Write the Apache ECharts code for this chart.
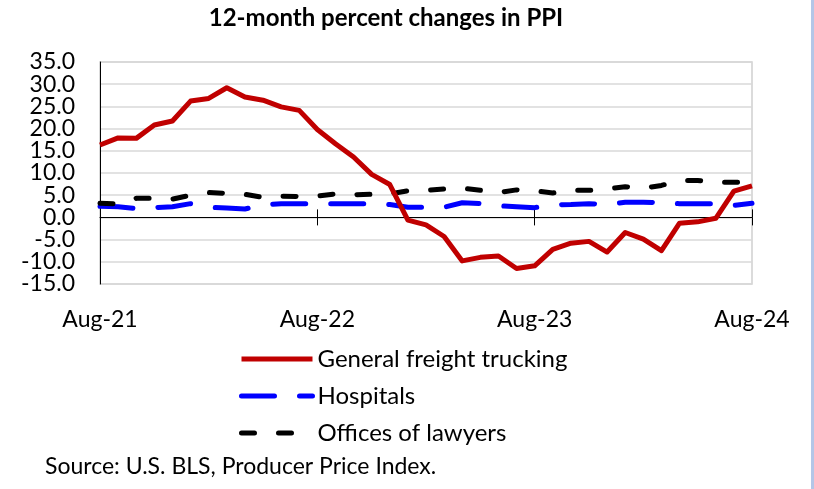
<!DOCTYPE html>
<html>
<head>
<meta charset="utf-8">
<script src="https://cdn.jsdelivr.net/npm/echarts@6/dist/echarts.min.js"></script>
<style>
  html, body { margin: 0; padding: 0; background: #fff; }
  #chart { width: 814px; height: 489px; }
  .edge { position: absolute; left: 811px; top: 0; width: 3px; height: 489px; background: #b4c6e7; }
</style>
</head>
<body>
<div id="chart"></div>
<div class="edge"></div>
<script>
// monthly, Aug 2021 .. Aug 2024
const months = [
  'Aug-21', 'Sep-21', 'Oct-21', 'Nov-21', 'Dec-21', 'Jan-22', 'Feb-22', 'Mar-22', 'Apr-22', 'May-22', 'Jun-22', 'Jul-22',
  'Aug-22', 'Sep-22', 'Oct-22', 'Nov-22', 'Dec-22', 'Jan-23', 'Feb-23', 'Mar-23', 'Apr-23', 'May-23', 'Jun-23', 'Jul-23',
  'Aug-23', 'Sep-23', 'Oct-23', 'Nov-23', 'Dec-23', 'Jan-24', 'Feb-24', 'Mar-24', 'Apr-24', 'May-24', 'Jun-24', 'Jul-24',
  'Aug-24'
]
const trucking = [
  16.3, 17.9, 17.8, 20.8, 21.7, 26.2, 26.8, 29.2, 27.1, 26.4, 24.9, 24.1,
  19.8, 16.6, 13.6, 9.7, 7.4, -0.6, -1.7, -4.3, -9.8, -9.0, -8.7, -11.5,
  -10.9, -7.2, -5.8, -5.4, -7.8, -3.4, -4.9, -7.5, -1.3, -1.0, -0.2, 5.9,
  7.1
]
const hospitals = [
  2.5, 2.4, 2.0, 2.2, 2.4, 3.1, 2.3, 2.1, 1.9, 2.8, 3.1, 3.1,
  3.1, 3.1, 3.1, 3.1, 2.9, 2.3, 2.3, 2.3, 3.3, 3.1, 2.6, 2.4,
  2.2, 2.8, 2.9, 3.1, 2.9, 3.4, 3.4, 3.3, 3.1, 3.1, 3.1, 2.7,
  3.2
]
const lawyers = [
  3.2, 3.0, 4.3, 4.3, 4.1, 5.0, 5.6, 5.4, 5.2, 4.5, 4.8, 4.7,
  4.8, 5.3, 5.1, 5.2, 5.3, 6.0, 6.1, 6.4, 6.6, 6.1, 5.6, 6.2,
  6.0, 5.5, 6.1, 6.1, 6.4, 6.9, 6.6, 7.2, 8.3, 8.3, 7.9, 7.9,
  8.1
]
const seriesNames = ['General freight trucking', 'Hospitals', 'Offices of lawyers']
// y tick labels, split over two axes so the tight spacing does not drop any
const yLabelsOdd = [-15, -5, 5, 15, 25, 35]
const yLabelsEven = [-10, 0, 10, 20, 30]

const font = 'Lato, "Liberation Sans", sans-serif'
const chart = echarts.init(document.getElementById('chart'))

const yLabelStyle = {
  margin: 25,
  fontFamily: font,
  fontSize: 23,
  color: '#000',
  formatter: v => v.toFixed(1)
}

const option = {
  animation: false,
  title: {
    text: '12-month percent changes in PPI',
    left: 381,
    top: 1,
    textAlign: 'center',
    textStyle: { fontFamily: font, fontSize: 24, fontWeight: 'bold', color: '#000' }
  },
  legend: {
    data: seriesNames,
    orient: 'vertical',
    left: 234,
    top: 342,
    itemWidth: 71,
    itemHeight: 24,
    itemGap: 13,
    itemStyle: { color: 'rgba(0,0,0,0)', borderWidth: 0, opacity: 0 },
    lineStyle: { width: 5 },
    textStyle: { fontFamily: font, fontSize: 24, color: '#000' }
  },
  graphic: [{
    type: 'text',
    left: 45,
    top: 455,
    style: { text: 'Source: U.S. BLS, Producer Price Index.', fontFamily: font, fontSize: 23, fill: '#000' }
  }],
  grid: {
    left: 100,
    right: 62,
    top: 62,
    height: 222,
    show: true,
    borderColor: '#d0d0d0',
    borderWidth: 1.5
  },
  xAxis: [
    {
      type: 'category',
      data: months,
      boundaryGap: false,
      position: 'bottom',
      axisLine: { show: false, onZero: false },
      axisTick: { show: false },
      axisLabel: {
        interval: 11,
        margin: 24,
        fontFamily: font,
        fontSize: 23,
        color: '#000'
      },
      splitLine: { show: false }
    },
    {
      type: 'category',
      data: months,
      boundaryGap: false,
      position: 'bottom',
      axisLine: { show: true, onZero: true, lineStyle: { color: '#000', width: 1 } },
      axisTick: { show: true, interval: 11, length: 8, lineStyle: { color: '#000' } },
      axisLabel: { show: false },
      splitLine: { show: false }
    },
    {
      type: 'category',
      data: months,
      boundaryGap: false,
      position: 'bottom',
      axisLine: { show: false, onZero: true },
      axisTick: { show: true, inside: true, interval: 11, length: 8, lineStyle: { color: '#000' } },
      axisLabel: { show: false },
      splitLine: { show: false }
    }
  ],
  yAxis: [
    {
      type: 'value',
      min: -15,
      max: 35,
      interval: 5,
      axisLine: { show: true, onZero: false, lineStyle: { color: '#000', width: 1 } },
      axisTick: { show: false },
      axisLabel: Object.assign({ customValues: yLabelsOdd }, yLabelStyle),
      splitLine: { lineStyle: { color: '#d9d9d9', width: 1.5 } }
    },
    {
      type: 'value',
      min: -15,
      max: 35,
      interval: 5,
      position: 'left',
      axisLine: { show: false, onZero: false },
      axisTick: { show: false },
      axisLabel: Object.assign({ customValues: yLabelsEven }, yLabelStyle),
      splitLine: { show: false }
    }
  ],
  series: [
    {
      name: seriesNames[0],
      type: 'line',
      data: trucking,
      symbol: 'none',
      itemStyle: { color: '#c00000' },
      lineStyle: { color: '#c00000', width: 5, join: 'round' },
      z: 3
    },
    {
      name: seriesNames[1],
      type: 'line',
      data: hospitals,
      symbol: 'none',
      itemStyle: { color: '#0000ff' },
      lineStyle: { color: '#0000ff', width: 5, type: [33, 25], cap: 'round' },
      z: 2
    },
    {
      name: seriesNames[2],
      type: 'line',
      data: lawyers,
      symbol: 'none',
      itemStyle: { color: '#000' },
      lineStyle: { color: '#000', width: 5, type: [13, 24], cap: 'round' },
      z: 2
    }
  ]
}

chart.setOption(option)
</script>
</body>
</html>
